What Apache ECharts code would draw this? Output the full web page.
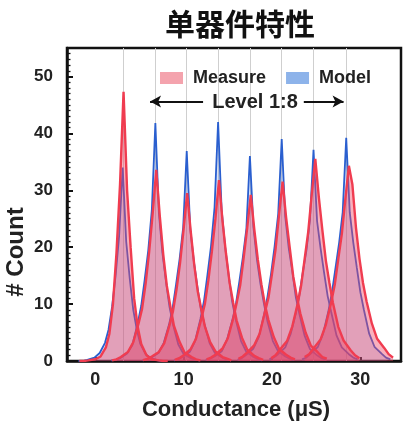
<!DOCTYPE html>
<html>
<head>
<meta charset="utf-8">
<script src="https://cdn.jsdelivr.net/npm/echarts@6/dist/echarts.min.js"></script>
<style>html,body{margin:0;padding:0;background:#fff;}#c{width:408px;height:424px;}</style>
</head>
<body>
<div id="c"></div>
<script>
// ---- data ----
const titleText = '单器件特性';
const xName = 'Conductance (μS)';
const yName = '# Count';
const seriesNames = ['Measure', 'Model'];
const annotationText = 'Level 1:8';
const xTicks = [0, 10, 20, 30];
const binOffsets = [-5, -4.5, -4, -3.2, -2.6, -2, -1.6, -1.2, -0.8, -0.4, 0, 0.4, 0.8, 1.2, 1.6, 2, 2.6, 3.2, 4, 4.5, 5];
const levelLines = [3.2, 6.8, 10.3, 13.9, 17.5, 21.1, 24.7, 28.4];
const measureCenters = [3.2, 6.9, 10.4, 14.0, 17.6, 21.2, 24.9, 28.7];
const modelCenters = [3.1, 6.8, 10.35, 13.9, 17.5, 21.1, 24.7, 28.4];
const measureCounts = [
  [0, 0, 0.1, 0.3, 0.8, 2.4, 4.8, 10, 19, 31, 47.3, 30, 20, 11, 6, 3, 1, 0.3, 0.1, 0, 0],
  [0.1, 0.3, 0.7, 1.6, 3.3, 6.6, 9.2, 13.6, 19.2, 26, 33.6, 25.5, 18.6, 13.2, 9.6, 6.2, 3.5, 1.5, 0.7, 0.3, 0.1],
  [0.15, 0.35, 0.8, 1.6, 3.1, 6.3, 8.8, 12.6, 17.3, 23.2, 29.5, 22.8, 16.9, 12.2, 9.1, 6.1, 3.3, 1.7, 0.7, 0.4, 0.1],
  [0.2, 0.5, 1, 2.1, 3.9, 7.4, 10, 14.2, 19.3, 25, 31.8, 24.6, 18.8, 13.8, 10.3, 7.1, 4.1, 2, 0.9, 0.5, 0.2],
  [0.3, 0.6, 1.1, 2.2, 4, 7.4, 10.2, 13.3, 18.2, 23.5, 29.2, 23.1, 17.8, 13.5, 9.9, 7.2, 4.2, 2.1, 1.1, 0.6, 0.3],
  [0.4, 0.8, 1.5, 2.8, 4.8, 8.6, 11.1, 15.3, 19.6, 25.7, 31.5, 25.2, 20, 14.9, 11.4, 8.4, 5, 2.7, 1.5, 0.7, 0.4],
  [0.5, 1, 2, 3.5, 6.1, 10, 13.3, 18, 22.7, 29.3, 35.5, 28.8, 23, 17.6, 13.7, 10.2, 6, 3.6, 1.9, 1, 0.5],
  [0.7, 1.2, 2.2, 3.8, 6.4, 10.3, 13.4, 17.9, 22.3, 28.4, 34.3, 31, 23.5, 18, 13.7, 10.5, 6.6, 3.9, 2.3, 1.2, 0.6]
];
const modelCounts = [
  [0, 0, 0.2, 0.6, 1.4, 3.2, 5.5, 9.5, 15, 22, 34, 21, 14.5, 9, 5.5, 3, 1.2, 0.5, 0.1, 0, 0],
  [0.1, 0.2, 0.5, 1.3, 2.8, 6.6, 9.7, 14.4, 19.5, 26.5, 41.8, 26, 19, 14, 9.5, 6.4, 2.9, 1.2, 0.5, 0.2, 0.1],
  [0.1, 0.3, 0.6, 1.4, 3.2, 6.4, 9.3, 13.5, 18, 23.5, 36.9, 23.2, 17.6, 13.1, 9.1, 6.5, 3.1, 1.4, 0.6, 0.3, 0.1],
  [0.1, 0.3, 0.7, 1.6, 3.5, 7.4, 10.5, 15.2, 20.2, 27, 42, 26.6, 20, 15, 10.4, 7.3, 3.5, 1.6, 0.7, 0.3, 0.1],
  [0.2, 0.4, 0.8, 1.7, 3.7, 7.1, 9.8, 13.9, 18.2, 23.2, 36, 23.5, 17.8, 13.5, 10, 6.9, 3.5, 1.7, 0.8, 0.4, 0.2],
  [0.2, 0.5, 1.1, 2.2, 4.2, 8.1, 11.4, 15.4, 20.2, 25.8, 39, 25.4, 19.8, 15.8, 11.2, 8.3, 4.4, 2.1, 1, 0.5, 0.2],
  [0.3, 0.6, 1.2, 2.4, 4.7, 8.4, 11.6, 15.7, 19.5, 24.9, 37.1, 24.6, 19.8, 15.5, 11.4, 8.6, 4.5, 2.4, 1.2, 0.6, 0.3],
  [0.3, 0.6, 1.3, 2.5, 4.9, 8.9, 12.2, 16.5, 20.8, 26.1, 39.2, 26.1, 20.8, 16.4, 12.1, 9, 4.8, 2.5, 1.3, 0.6, 0.3]
];
// arrow annotation endpoints in data units: [fromX, toX], y
const arrowLeft = [12.2, 6.2];
const arrowRight = [23.6, 28.1];
const arrowY = 45.6;

// ---- chart ----
const FONT = '"Liberation Sans", Arial, sans-serif';
const chart = echarts.init(document.getElementById('c'), null, {renderer: 'canvas'});

function levelData(center, counts) {
  return binOffsets.map((o, j) => [Math.round((center + o) * 100) / 100, counts[j]]);
}

const series = [];
modelCounts.forEach((counts, i) => {
  const s = {
    name: seriesNames[1], type: 'line', symbol: 'none', z: 2,
    data: levelData(modelCenters[i], counts),
    lineStyle: {color: '#2a5fcf', width: 1.8},
    itemStyle: {color: '#8db3ea'},
    areaStyle: {color: 'rgba(70,120,222,0.3)'},
    emphasis: {disabled: true}
  };
  if (i === 0) {
    s.markLine = {
      silent: true, symbol: 'none', z: 1,
      label: {show: false},
      lineStyle: {color: '#cfcfcf', width: 1, type: 'solid'},
      data: levelLines.map(v => ({xAxis: v}))
    };
  }
  series.push(s);
});
measureCounts.forEach((counts, i) => {
  const s = {
    name: seriesNames[0], type: 'line', symbol: 'none', z: 3,
    data: levelData(measureCenters[i], counts),
    lineStyle: {color: '#f03c50', width: 2.4},
    itemStyle: {color: '#f4a3ad'},
    areaStyle: {color: 'rgba(240,68,98,0.6)'},
    emphasis: {disabled: true}
  };
  if (i === measureCounts.length - 1) {
    s.markLine = {
      silent: true, symbol: ['none', 'arrow'], symbolSize: [9, 11],
      label: {show: false},
      lineStyle: {color: '#111', width: 2, type: 'solid'},
      data: [
        [{coord: [arrowLeft[0], arrowY]}, {coord: [arrowLeft[1], arrowY]}],
        [{coord: [arrowRight[0], arrowY]}, {coord: [arrowRight[1], arrowY]}]
      ]
    };
  }
  series.push(s);
});

chart.setOption({
  animation: false,
  backgroundColor: '#fff',
  grid: {left: 67, right: 7, top: 48, bottom: 63, show: true, borderColor: '#111', borderWidth: 2.5},
  legend: {
    left: 155, top: 64, itemWidth: 23, itemHeight: 12, itemGap: 20, selectedMode: false,
    textStyle: {fontFamily: FONT, fontWeight: 'bold', fontSize: 18, color: '#222', padding: [0, 0, 0, 5]},
    data: [
      {name: seriesNames[0], icon: 'rect', itemStyle: {color: '#f4a3ad'}},
      {name: seriesNames[1], icon: 'rect', itemStyle: {color: '#8db3ea'}}
    ]
  },
  xAxis: {
    type: 'value', min: -3.2, max: 34.6,
    axisLine: {onZero: false, lineStyle: {color: '#111', width: 2.5}},
    axisTick: {show: true, inside: true, length: 4, customValues: xTicks, lineStyle: {color: '#111', width: 2}},
    axisLabel: {customValues: xTicks, fontFamily: FONT, fontWeight: 'bold', fontSize: 18, color: '#222', margin: 10},
    splitLine: {show: false}
  },
  yAxis: {
    type: 'value', min: 0, max: 55, interval: 10,
    axisLine: {show: true, onZero: false, lineStyle: {color: '#111', width: 2.5}},
    axisTick: {show: true, inside: true, length: 6, lineStyle: {color: '#111', width: 2}},
    minorTick: {show: true, splitNumber: 10, length: 3.5, lineStyle: {color: '#111', width: 1.3}},
    axisLabel: {fontFamily: FONT, fontWeight: 'bold', fontSize: 17, color: '#222', margin: 14, showMaxLabel: false},
    splitLine: {show: false}
  },
  graphic: [
    {type: 'text', x: 240, y: 24, style: {text: titleText, font: 'bold 30px "Noto Sans CJK SC"', fill: '#111', align: 'center', verticalAlign: 'middle'}},
    {type: 'text', x: 236, y: 410, style: {text: xName, font: 'bold 22px ' + FONT, fill: '#222', align: 'center', verticalAlign: 'middle'}},
    {type: 'text', x: 16, y: 252, rotation: Math.PI / 2, style: {text: yName, font: 'bold 24px ' + FONT, fill: '#222', align: 'center', verticalAlign: 'middle'}},
    {type: 'text', x: 255, y: 102, z: 100, style: {text: annotationText, font: 'bold 20px ' + FONT, fill: '#222', align: 'center', verticalAlign: 'middle'}}
  ],
  series: series
});
</script>
</body>
</html>
